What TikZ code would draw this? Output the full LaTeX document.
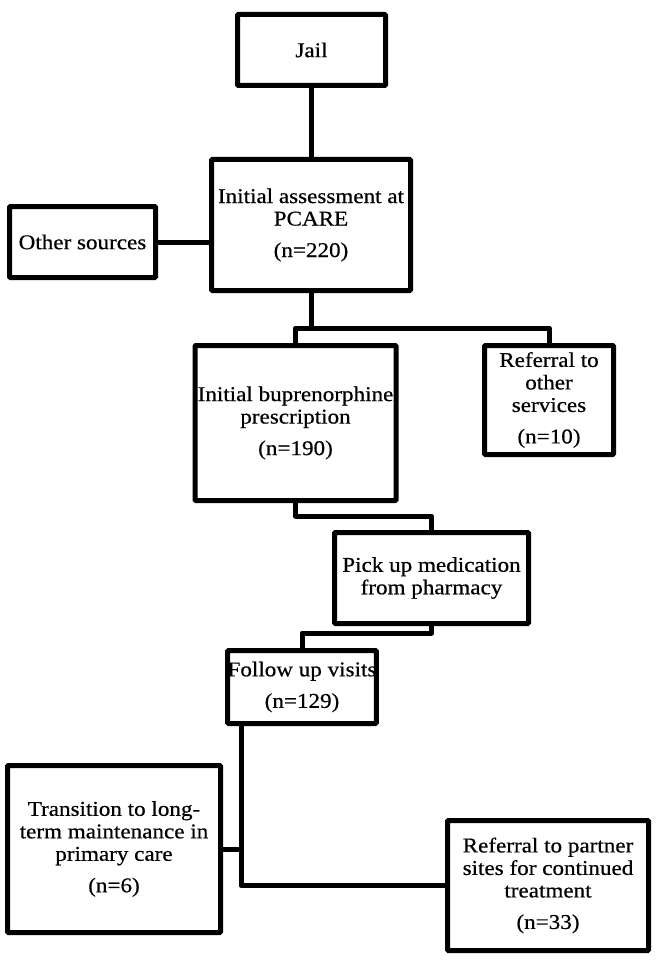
\documentclass[tikz,border=0pt]{standalone}
\usepackage{fontspec}
\setmainfont{Liberation Serif}[FakeStretch=1.1,FakeBold=0.5]
\begin{document}
\begin{tikzpicture}[x=1pt,y=-1pt,
  box/.style={draw, line width=5pt, rounded corners=1pt, align=center, inner sep=0pt,
    font=\fontsize{21}{22.5}\selectfont},
  conn/.style={draw, line width=5pt, line join=round}]
\useasboundingbox (0,0) rectangle (658,960);

\node[box, minimum width=148pt, minimum height=71pt] (jail) at (311.5,50) {Jail};
\node[box, minimum width=199pt, minimum height=131pt] (pcare) at (311,225)
  {Initial assessment at\\PCARE\\[9pt](n=220)};
\node[box, minimum width=146pt, minimum height=71pt] (other) at (82.5,242) {Other sources};
\node[box, minimum width=201pt, minimum height=155pt] (bup) at (295.5,423)
  {Initial buprenorphine\\prescription\\[9pt](n=190)};
\node[box, minimum width=129pt, minimum height=109pt] (refo) at (549,400)
  {Referral to\\other\\services\\[9pt](n=10)};
\node[box, minimum width=194pt, minimum height=91pt] (pick) at (431.5,578)
  {Pick up medication\\from pharmacy};
\node[box, minimum width=147pt, minimum height=73pt] (follow) at (302,687)
  {Follow up visits\\[9pt](n=129)};
\node[box, minimum width=213pt, minimum height=167pt] (trans) at (114,849)
  {Transition to long-\\term maintenance in\\primary care\\[9pt](n=6)};
\node[box, minimum width=201pt, minimum height=130pt] (refp) at (548,885.5)
  {Referral to partner\\sites for continued\\treatment\\[9pt](n=33)};

\coordinate (j1) at (312,328);
\coordinate (j2) at (0,516);
\coordinate (j3) at (0,633);
\coordinate (f1) at ([xshift=16pt]follow.south west);

\path[conn] (jail.south) -- (jail.south |- pcare.north);
\path[conn] (other.east) -- (other.east -| pcare.west);
\path[conn] (pcare.south) -- (pcare.south |- j1);
\path[conn] (bup.north) |- (refo.north |- j1) -- (refo.north);
\path[conn] (bup.south) -- (bup.south |- j2) -| (pick.north);
\path[conn] (pick.south) -- (pick.south |- j3) -| (follow.north);
\path[conn] (f1) |- (refp.west);
\path[conn] (trans.east) -- (trans.east -| f1);
\end{tikzpicture}
\end{document}
